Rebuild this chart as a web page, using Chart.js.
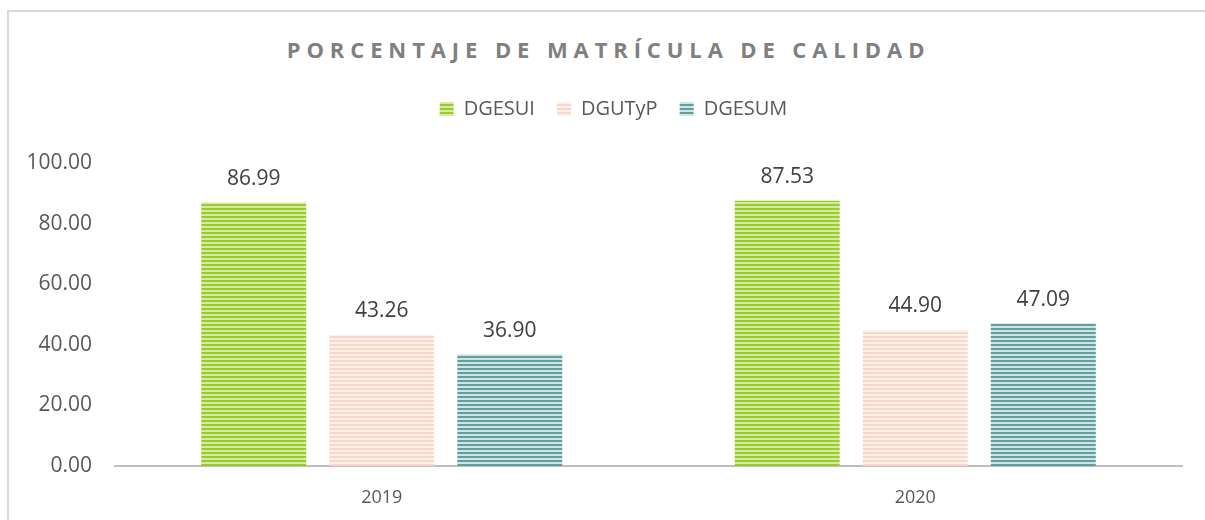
<!DOCTYPE html>
<html>
<head>
<meta charset="utf-8">
<script src="https://cdn.jsdelivr.net/npm/chart.js@4"></script>
<style>
  html, body { margin: 0; padding: 0; background: #fff; }
  #wrap { position: relative; width: 1205px; height: 520px; overflow: hidden; }
  #frame { position: absolute; left: 7px; top: 10px; width: 1250px; height: 600px; border: 2px solid #d9d9d9; box-sizing: border-box; }
  #title { position: absolute; left: 0; top: 34px; width: 1217px; text-align: center; font-family: "Open Sans", sans-serif; font-weight: bold; font-size: 22px; line-height: 30px; letter-spacing: 5.9px; color: #808080; }
  canvas { position: absolute; left: 0; top: 0; }
</style>
</head>
<body>
<div id="wrap">
  <div id="frame"></div>
  <div id="title">PORCENTAJE DE MATRÍCULA DE CALIDAD</div>
  <canvas id="barChart" width="1205" height="520"></canvas>
</div>
<script>
// chart data
var years = ['2019', '2020'];
var seriesNames = ['DGESUI', 'DGUTyP', 'DGESUM'];
var dgesui = [86.99, 87.53];
var dgutyp = [43.26, 44.90];
var dgesum = [36.90, 47.09];
var yTicks = [0, 20, 40, 60, 80, 100];

// striped fill like the original
function stripes(dark, light) {
  var c = document.createElement('canvas');
  c.width = 4; c.height = 4;
  var g = c.getContext('2d');
  g.fillStyle = light; g.fillRect(0, 0, 4, 4);
  g.fillStyle = dark; g.fillRect(0, 0, 4, 2);
  return g.createPattern(c, 'repeat');
}

var fills = [
  stripes('#9acb2c', '#d6eb9f'),
  stripes('#f8d8ca', '#fdf1eb'),
  stripes('#5f9f9f', '#d0e4e4')
];

// value labels above the bars
var valueLabels = {
  id: 'valueLabels',
  afterDatasetsDraw: function (chart) {
    var ctx = chart.ctx;
    ctx.save();
    ctx.font = '21px "Open Sans", sans-serif';
    ctx.fillStyle = '#404040';
    ctx.textAlign = 'center';
    ctx.textBaseline = 'bottom';
    chart.data.datasets.forEach(function (ds, i) {
      chart.getDatasetMeta(i).data.forEach(function (bar, j) {
        ctx.fillText(ds.data[j].toFixed(2), bar.x, bar.y - 13);
      });
    });
    ctx.restore();
  }
};

// extra room under the legend, and nudge it right to sit where the original does
var legendTweak = {
  id: 'legendTweak',
  beforeInit: function (chart) {
    var lg = chart.legend;
    var fit = lg.fit;
    var draw = lg.draw;
    lg.fit = function () {
      fit.bind(lg)();
      this.height += 34;
    };
    lg.draw = function () {
      var c = chart.ctx;
      c.save();
      c.translate(20, 0);
      draw.bind(lg)();
      c.restore();
    };
  }
};

var ctx = document.getElementById('barChart');
var barChart = new Chart(ctx, {
  type: 'bar',
  data: {
    labels: years,
    datasets: [
      { label: seriesNames[0], data: dgesui, backgroundColor: fills[0] },
      { label: seriesNames[1], data: dgutyp, backgroundColor: fills[1] },
      { label: seriesNames[2], data: dgesum, backgroundColor: fills[2] }
    ]
  },
  options: {
    responsive: false,
    animation: false,
    categoryPercentage: 0.72,
    barPercentage: 0.82,
    layout: { padding: { top: 77, left: 5, right: 23, bottom: 0 } },
    plugins: {
      legend: {
        position: 'top',
        labels: {
          boxWidth: 14, boxHeight: 14, padding: 22,
          color: '#595959',
          font: { family: '"Open Sans", sans-serif', size: 20 }
        }
      },
      tooltip: { enabled: false }
    },
    scales: {
      x: {
        afterFit: function (axis) { axis.height = 54; },
        grid: { display: false },
        border: { color: '#bfbfbf', width: 2 },
        ticks: { color: '#595959', padding: 13, font: { family: '"Open Sans", sans-serif', size: 18 } }
      },
      y: {
        min: 0, max: 100,
        afterBuildTicks: function (axis) { axis.ticks = yTicks.map(function (v) { return { value: v }; }); },
        afterFit: function (axis) { axis.width = 110; },
        grid: { display: false, drawTicks: false },
        border: { display: false },
        ticks: {
          color: '#595959', padding: 23,
          font: { family: '"Open Sans", sans-serif', size: 21 },
          callback: function (v) { return Number(v).toFixed(2); }
        }
      }
    }
  },
  plugins: [valueLabels, legendTweak]
});
</script>
</body>
</html>
